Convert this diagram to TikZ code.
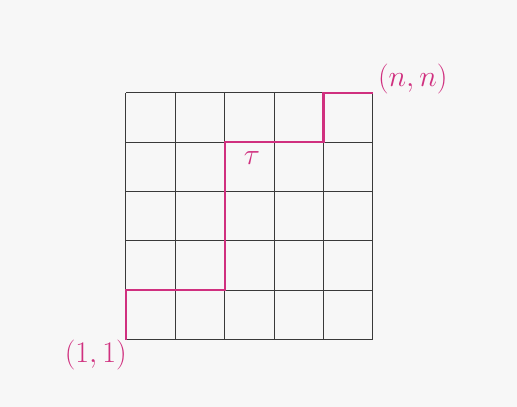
\documentclass[tikz,border=0pt]{standalone}
\usetikzlibrary{positioning, calc}
\definecolor{cpink}{HTML}{D0307F}
\definecolor{cgrid}{HTML}{3A3A3A}
\definecolor{cpaper}{HTML}{F7F7F7}
\tikzset{
  gridline/.style={draw=cgrid, line width=0.6pt},
  route/.style={draw=cpink, line width=1.3pt, line join=miter},
  corner/.style={text=cpink, font=\LARGE, inner sep=1pt},
  routelabel/.style={text=cpink, font=\LARGE, inner sep=1pt},
}
\begin{document}
\begin{tikzpicture}
  % paper and margins
  \fill[cpaper] (-2.55,-1.36) rectangle (7.92,6.88);
  \useasboundingbox (-2.55,-1.36) rectangle (7.92,6.88);
  % 5x5 lattice
  \draw[gridline] (0,0) grid (5,5);
  \coordinate (start) at (0,0);
  \coordinate (goal) at (5,5);
  % the lattice path
  \draw[route] (start) -- (0,1) -- (2,1) -- (2,4) -- (4,4) -- (4,5) -- (goal);
  \node[corner] (lo) at ($(start)+(-0.61,-0.30)$) {$(1,1)$};
  \node[corner] (hi) at ($(goal)+(0.81,0.28)$) {$(n,n)$};
  \node[routelabel] (tau) at (2.55,3.68) {$\tau$};
\end{tikzpicture}
\end{document}
